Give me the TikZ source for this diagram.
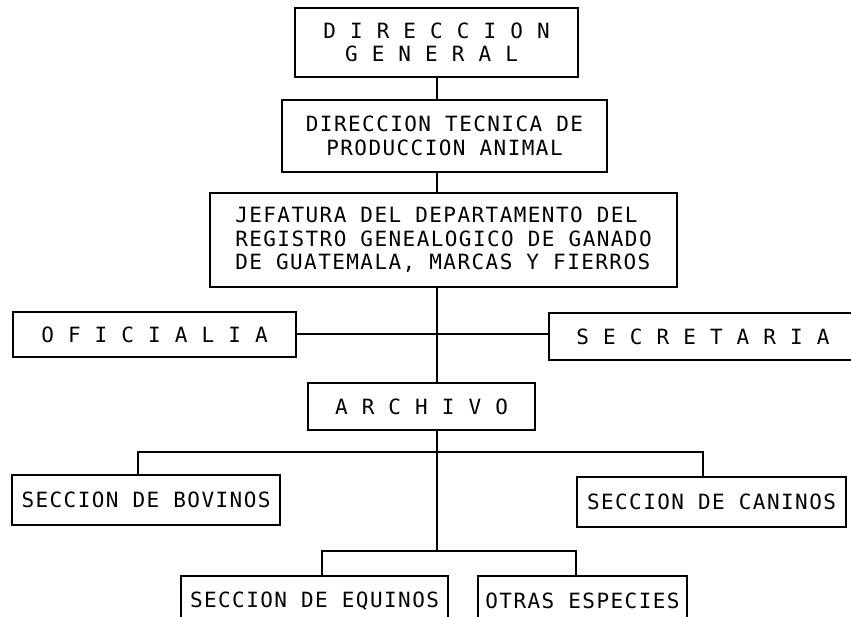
\documentclass[tikz,border=0pt]{standalone}
\usepackage{fontspec}
\newfontfamily\plotfont{DejaVu Sans Mono}[LetterSpace=6.8]
\begin{document}
\begin{tikzpicture}[x=1pt,y=-1pt,
  box/.style={draw,line width=1.8pt,inner sep=0pt,align=center,
    font=\plotfont\fontsize{21}{23.5}\selectfont},
  link/.style={line width=1.8pt}]
\useasboundingbox (0,0) rectangle (851,616);
\clip (0,0) rectangle (851,616);
\node[box,minimum width=283pt,minimum height=69pt] (dg) at (436.5,42.5)
  {D I R E C C I O N\\G E N E R A L\rule{10pt}{0pt}};
\node[box,minimum width=325pt,minimum height=72pt] (dt) at (444.5,136)
  {DIRECCION TECNICA DE\\PRODUCCION ANIMAL};
\node[box,minimum width=467pt,minimum height=94pt,align=left] (jf) at (443.5,240)
  {JEFATURA DEL DEPARTAMENTO DEL\\REGISTRO GENEALOGICO DE GANADO\\DE GUATEMALA, MARCAS Y FIERROS};
\node[box,minimum width=283pt,minimum height=45pt] (of) at (154.5,334.5) {O F I C I A L I A};
\node[box,minimum width=308pt,minimum height=47pt] (se) at (703,336.5) {S E C R E T A R I A};
\node[box,minimum width=227pt,minimum height=47pt] (ar) at (421.5,406.5) {A R C H I V O};
\node[box,minimum width=268pt,minimum height=50pt] (bo) at (146,500) {SECCION DE BOVINOS};
\node[box,minimum width=269pt,minimum height=50pt] (ca) at (711.5,502) {SECCION DE CANINOS};
\node[box,minimum width=267pt,minimum height=50pt] (eq) at (314.5,601) {SECCION DE EQUINOS};
\node[box,minimum width=209pt,minimum height=50pt] (ot) at (582.5,601) {OTRAS ESPECIES};
\coordinate (t) at (437,0);
\coordinate (h0) at (437,334);
\coordinate (h1) at (437,452);
\coordinate (h2) at (437,551);
\draw[link] (dg.south -| t) -- (dt.north -| t);
\draw[link] (dt.south -| t) -- (jf.north -| t);
\draw[link] (jf.south -| t) -- (ar.north -| t);
\draw[link] (of.east |- h0) -- (se.west |- h0);
\draw[link] (ar.south -| t) -- (h2);
\draw[link] ([xshift=-8pt]bo.north) |- (h1) -| ([xshift=-8.5pt]ca.north);
\draw[link] ([xshift=7.5pt]eq.north) |- (h2) -| ([xshift=-6.5pt]ot.north);
\end{tikzpicture}
\end{document}
